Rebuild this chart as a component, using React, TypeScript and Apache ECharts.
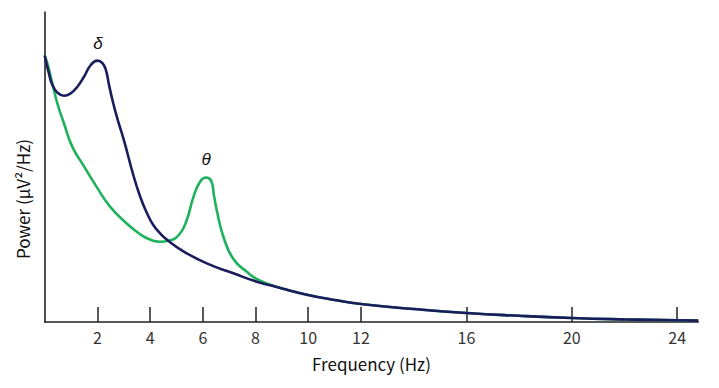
import React, { useEffect, useRef } from "react";
import * as echarts from "echarts";

const tickValues = [2, 4, 6, 8, 10, 12, 16, 20, 24];

const deltaFreq = [0, 0.16, 0.29, 0.48, 0.73, 0.99, 1.24, 1.49, 1.75, 2.0, 2.19, 2.32, 2.44, 2.57, 2.76, 3.01, 3.36, 3.62, 3.87, 4.12, 4.4, 4.63, 5.26, 6.15, 7.16, 8.05, 8.94, 9.95, 11, 12, 14, 16, 18, 20, 22, 24, 24.8];
const deltaPower = [86, 80.2, 76.5, 74, 73, 73.8, 75.9, 79.1, 82.9, 84.3, 83.5, 81.3, 76.5, 71.6, 65.5, 58.5, 47.5, 40.5, 35.3, 31.3, 28.4, 26.6, 22.8, 18.9, 15.7, 13, 11, 8.8, 7.1, 5.8, 4.2, 2.9, 2, 1.3, 0.85, 0.55, 0.45];

const thetaFreq = [0, 0.1, 0.29, 0.48, 0.73, 1.05, 1.47, 1.97, 2.48, 3.11, 3.62, 3.99, 4.37, 4.74, 5.12, 5.39, 5.64, 5.9, 6.12, 6.32, 6.42, 6.53, 6.78, 7.16, 7.67, 8.11, 8.94, 9.95, 11, 12, 14, 16, 18, 20, 22, 24, 24.8];
const thetaPower = [86, 83.4, 77, 70.5, 64.1, 56.5, 50.5, 43.6, 37.2, 31.8, 28.3, 26.6, 25.9, 26.3, 28.4, 32.9, 40.2, 45.3, 46.6, 45.5, 41, 36, 27.5, 20.3, 16.2, 13.6, 11, 8.8, 7.1, 5.8, 4.2, 2.9, 2, 1.3, 0.85, 0.55, 0.45];

const deltaPeak = [2.02, 84.4];
const thetaPeak = [6.12, 46.6];

const NAVY = "#1b1c5e";
const GREEN = "#1fb25c";
const FONT = "'Noto Sans CJK KR', 'Noto Sans', sans-serif";

export default function App() {
  const ref = useRef<HTMLDivElement>(null);
  useEffect(() => {
    if (!ref.current) return;
    const chart = echarts.init(ref.current, null, { renderer: "svg" });
    const zip = (xs: number[], ys: number[]) => xs.map((x, i) => [x, ys[i]]);
    const peakLabel = (txt: string, dy: number) => ({
      show: true,
      formatter: txt,
      position: "inside",
      offset: [0, dy],
      fontFamily: "'Liberation Sans', Arial, sans-serif",
      fontStyle: "italic",
      fontSize: 17,
      color: "#111",
    });
    chart.setOption({
      animation: false,
      grid: { left: 44.7, right: 20.7, top: 12, bottom: 66, containLabel: false },
      xAxis: {
        type: "value",
        min: 0,
        max: 24.8,
        name: "Frequency (Hz)",
        nameLocation: "middle",
        nameGap: 33,
        nameTextStyle: { fontFamily: FONT, fontSize: 17, color: "#111" },
        axisLine: { show: true, lineStyle: { color: "#222", width: 1.6 } },
        axisTick: { show: true, inside: true, length: 15, customValues: tickValues, lineStyle: { color: "#222", width: 1.5 } },
        axisLabel: { show: true, customValues: tickValues, margin: 7, fontFamily: FONT, fontSize: 16, color: "#333" },
        splitLine: { show: false },
      },
      yAxis: {
        type: "value",
        min: 0,
        max: 100,
        axisLine: { show: true, lineStyle: { color: "#222", width: 1.6 } },
        axisTick: { show: false },
        axisLabel: { show: false },
        splitLine: { show: false },
      },
      graphic: [
        {
          type: "text",
          x: 22,
          y: 199,
          rotation: Math.PI / 2,
          style: {
            text: "Power (μV²/Hz)",
            font: `17px ${FONT}`,
            fill: "#111",
            textAlign: "center",
            textVerticalAlign: "middle",
          },
        },
      ],
      series: [
        {
          type: "line",
          data: zip(thetaFreq, thetaPower),
          smooth: 0.5,
          showSymbol: false,
          lineStyle: { color: GREEN, width: 2.6 },
          markPoint: {
            symbol: "circle",
            symbolSize: 1,
            itemStyle: { color: "transparent" },
            data: [{ coord: thetaPeak }],
            label: peakLabel("θ", -18),
          },
        },
        {
          type: "line",
          data: zip(deltaFreq, deltaPower),
          smooth: 0.5,
          showSymbol: false,
          lineStyle: { color: NAVY, width: 2.6 },
          markPoint: {
            symbol: "circle",
            symbolSize: 1,
            itemStyle: { color: "transparent" },
            data: [{ coord: deltaPeak }],
            label: peakLabel("δ", -17),
          },
        },
      ],
    });
    return () => chart.dispose();
  }, []);
  return <div ref={ref} style={{ width: 719, height: 388, position: "absolute", left: 0, top: 0 }} />;
}
